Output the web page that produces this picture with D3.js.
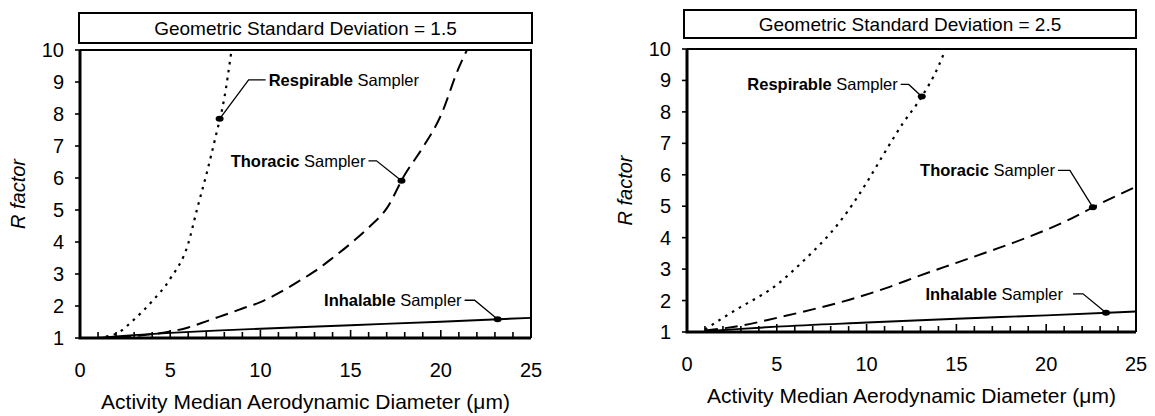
<!DOCTYPE html>
<html>
<head>
<meta charset="utf-8">
<script src="https://cdn.jsdelivr.net/npm/d3@7"></script>
<style>
  body { margin: 0; background: #fff; }
  text { font-family: "Liberation Sans", Arial, sans-serif; fill: #000; }
</style>
</head>
<body>
<svg width="1155" height="416"></svg>
<script>
// ---- data ----
var xTickValues = [0, 5, 10, 15, 20, 25];
var yTickValues = [1, 2, 3, 4, 5, 6, 7, 8, 9, 10];
var panelTitles = ["Geometric Standard Deviation = 1.5", "Geometric Standard Deviation = 2.5"];
var samplerNames = ["Respirable", "Thoracic", "Inhalable"];
var xTitle = "Activity Median Aerodynamic Diameter (\u03bcm)";
var yTitle = "R factor";

// GSD 1.5
var gsd15RespX = [1, 1.5, 2, 3, 4, 5, 6, 6.5, 7, 7.5, 8, 8.4];
var gsd15RespR = [1.0, 1.05, 1.13, 1.58, 2.15, 2.85, 3.95, 5.05, 6.1, 7.25, 8.5, 10];
var gsd15ThorX = [1, 2, 3, 4, 5, 6, 7, 8, 9, 10, 11, 12, 13, 14, 15, 16, 17, 18, 19, 20, 21, 21.45];
var gsd15ThorR = [1.0, 1.02, 1.06, 1.12, 1.2, 1.33, 1.52, 1.72, 1.92, 2.12, 2.4, 2.73, 3.08, 3.5, 3.95, 4.45, 5.05, 6.1, 6.95, 7.95, 9.45, 10];
var gsd15InhX = [1, 2, 3, 5, 7.5, 10, 15, 20, 25];
var gsd15InhR = [1.0, 1.05, 1.09, 1.16, 1.23, 1.29, 1.4, 1.51, 1.63];
var gsd15MarkerX = [7.74, 17.82, 23.15];

// GSD 2.5
var gsd25RespX = [1, 2, 3, 4, 5, 6, 7, 8, 9, 10, 11, 12, 13, 14, 14.4];
var gsd25RespR = [1.08, 1.45, 1.8, 2.12, 2.5, 3.0, 3.55, 4.15, 4.88, 5.75, 6.7, 7.62, 8.42, 9.45, 10];
var gsd25ThorX = [1, 3, 5, 7, 9, 11, 13, 15, 17, 19, 21, 23, 25];
var gsd25ThorR = [1.05, 1.2, 1.45, 1.72, 2.02, 2.38, 2.8, 3.2, 3.6, 4.02, 4.5, 5.08, 5.62];
var gsd25InhX = [1, 3, 5, 10, 15, 20, 25];
var gsd25InhR = [1.02, 1.1, 1.17, 1.3, 1.42, 1.53, 1.65];
var gsd25MarkerX = [13.07, 22.6, 23.33];

// ---- layout ----
var styles = [
  { dash: "2.6,5.4", width: 2.2 },   // respirable: dotted
  { dash: "13,7", width: 2 },        // thoracic: dashed
  { dash: null, width: 1.9 }         // inhalable: solid
];

var panels = [
  {
    title: panelTitles[0],
    series: [[gsd15RespX, gsd15RespR], [gsd15ThorX, gsd15ThorR], [gsd15InhX, gsd15InhR]],
    markers: gsd15MarkerX,
    left: 80, right: 531, top: 50, bottom: 338,
    box: { x0: 79, y0: 13, x1: 532, y1: 43 },
    labels: [
      { e1: [29, -39], e2: [46, -39], tx: 49, anchor: "start" },
      { e1: [-25, -20], e2: [-33, -20], tx: -36, anchor: "end" },
      { e1: [-23, -19], e2: [-33, -19], tx: -36, anchor: "end" }
    ]
  },
  {
    title: panelTitles[1],
    series: [[gsd25RespX, gsd25RespR], [gsd25ThorX, gsd25ThorR], [gsd25InhX, gsd25InhR]],
    markers: gsd25MarkerX,
    left: 687, right: 1136, top: 49, bottom: 332,
    box: { x0: 684, y0: 10, x1: 1136, y1: 38 },
    labels: [
      { e1: [-13, -12], e2: [-21, -12], tx: -24, anchor: "end" },
      { e1: [-23, -37], e2: [-35, -37], tx: -38, anchor: "end" },
      { e1: [-23, -19], e2: [-33, -19], tx: -43, anchor: "end" }
    ]
  }
];

function interp(xs, ys, x) {
  for (var i = 1; i < xs.length; i++) {
    if (x <= xs[i]) {
      var t = (x - xs[i - 1]) / (xs[i] - xs[i - 1]);
      return ys[i - 1] + t * (ys[i] - ys[i - 1]);
    }
  }
  return ys[ys.length - 1];
}

var svg = d3.select("svg");

panels.forEach(function(p, pi) {
  var x = d3.scaleLinear().domain([0, 25]).range([p.left, p.right]);
  var y = d3.scaleLinear().domain([1, 10]).range([p.bottom, p.top]);
  var g = svg.append("g");

  // title box
  g.append("rect")
    .attr("x", p.box.x0).attr("y", p.box.y0)
    .attr("width", p.box.x1 - p.box.x0).attr("height", p.box.y1 - p.box.y0)
    .attr("fill", "none").attr("stroke", "#000").attr("stroke-width", 2);
  g.append("text")
    .attr("x", (p.box.x0 + p.box.x1) / 2)
    .attr("y", (p.box.y0 + p.box.y1) / 2)
    .attr("dy", "0.35em")
    .attr("text-anchor", "middle")
    .attr("font-size", "19px")
    .text(p.title);

  // clip for curves
  g.append("clipPath").attr("id", "clip" + pi)
    .append("rect")
    .attr("x", p.left).attr("y", p.top)
    .attr("width", p.right - p.left).attr("height", p.bottom - p.top);

  // plot frame (top / right thin)
  g.append("path")
    .attr("d", "M" + p.left + "," + p.top + "H" + p.right + "V" + p.bottom)
    .attr("fill", "none").attr("stroke", "#000").attr("stroke-width", 2);

  // curves
  var line = d3.line()
    .x(function(d) { return x(d[0]); })
    .y(function(d) { return y(d[1]); })
    .curve(d3.curveMonotoneX);

  p.series.forEach(function(s, si) {
    var pts = s[0].map(function(v, i) { return [v, s[1][i]]; });
    g.append("path")
      .attr("clip-path", "url(#clip" + pi + ")")
      .attr("d", line(pts))
      .attr("fill", "none")
      .attr("stroke", "#000")
      .attr("stroke-width", styles[si].width)
      .attr("stroke-dasharray", styles[si].dash);
  });

  // x ticks: every 1 unit, longer at multiples of 5, pointing into the plot
  g.selectAll(".xtick").data(d3.range(1, 25)).join("line")
    .attr("class", "xtick")
    .attr("x1", function(d) { return x(d); })
    .attr("x2", function(d) { return x(d); })
    .attr("y1", p.bottom)
    .attr("y2", function(d) { return p.bottom - (d % 5 === 0 ? 8 : 6); })
    .attr("stroke", "#000").attr("stroke-width", 1.6);
  g.selectAll(".xlab").data(xTickValues).join("text")
    .attr("class", "xlab")
    .attr("x", function(d) { return x(d); })
    .attr("y", p.bottom + 32)
    .attr("dy", "0.35em")
    .attr("text-anchor", "middle")
    .attr("font-size", "20px")
    .text(function(d) { return d; });

  // y ticks: outward
  g.selectAll(".ytick").data(yTickValues).join("line")
    .attr("class", "ytick")
    .attr("x1", p.left - 5).attr("x2", p.left)
    .attr("y1", function(d) { return y(d); })
    .attr("y2", function(d) { return y(d); })
    .attr("stroke", "#000").attr("stroke-width", 1.6);
  g.selectAll(".ylab").data(yTickValues).join("text")
    .attr("class", "ylab")
    .attr("x", p.left - 16)
    .attr("y", function(d) { return y(d); })
    .attr("dy", "0.35em")
    .attr("text-anchor", "end")
    .attr("font-size", "20px")
    .text(function(d) { return d; });

  // thick left + bottom axis lines
  g.append("path")
    .attr("d", "M" + p.left + "," + p.top + "V" + p.bottom + "H" + p.right)
    .attr("fill", "none").attr("stroke", "#000").attr("stroke-width", 3);

  // markers + leader lines + labels
  p.markers.forEach(function(mx, si) {
    var s = p.series[si];
    var px = x(mx), py = y(interp(s[0], s[1], mx));
    var L = p.labels[si];
    g.append("path")
      .attr("d", "M" + px + "," + py +
                 "L" + (px + L.e1[0]) + "," + (py + L.e1[1]) +
                 "L" + (px + L.e2[0]) + "," + (py + L.e2[1]))
      .attr("fill", "none").attr("stroke", "#000").attr("stroke-width", 1.3);
    g.append("ellipse")
      .attr("cx", px).attr("cy", py).attr("rx", 4).attr("ry", 3)
      .attr("fill", "#000");
    var t = g.append("text")
      .attr("x", px + L.tx).attr("y", py + L.e2[1])
      .attr("dy", "0.35em")
      .attr("text-anchor", L.anchor)
      .attr("font-size", "16.5px");
    t.append("tspan").attr("font-weight", "bold").text(samplerNames[si]);
    t.append("tspan").text(" Sampler");
  });

  // axis titles
  g.append("text")
    .attr("x", (p.left + p.right) / 2)
    .attr("y", p.bottom + 71)
    .attr("text-anchor", "middle")
    .attr("font-size", "21px")
    .text(xTitle);
  g.append("text")
    .attr("transform", "translate(" + (p.left - 55) + "," + ((p.top + p.bottom) / 2) + ") rotate(-90)")
    .attr("text-anchor", "middle")
    .attr("font-size", "20px")
    .attr("font-style", "italic")
    .text(yTitle);
});
</script>
</body>
</html>
